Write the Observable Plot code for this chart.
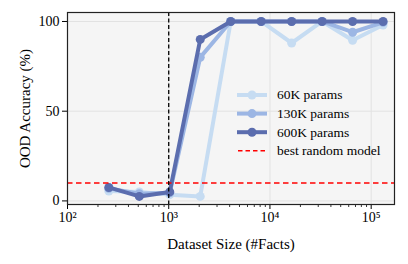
<!DOCTYPE html>
<html><head><meta charset="utf-8">
<script src="https://cdn.jsdelivr.net/npm/d3@7"></script>
<script src="https://cdn.jsdelivr.net/npm/@observablehq/plot@0.6"></script>
<style>
body{margin:0;background:#fff}
#chart{position:relative;width:408px;height:264px}
#chart svg, #chart svg text{font-family:"Liberation Serif","Times New Roman","DejaVu Serif",serif !important}
#chart [aria-label="x-axis label"], #chart [aria-label="y-axis label"]{font-size:15px}
</style>
</head><body><div id="chart"></div>
<script>
const sizes = [256, 512, 1024, 2048, 4096, 8192, 16384, 32768, 65536, 131072];
const acc60K = [5.5, 5, 3.5, 2.5, 100, 100, 88, 100, 89.5, 98];
const acc130K = [7, 4, 4.5, 80, 100, 100, 100, 100, 94, 99.5];
const acc600K = [7.5, 2.5, 5, 90, 100, 100, 100, 100, 100, 100];
const seriesNames = ["60K params", "130K params", "600K params"];
const seriesColors = ["#c6dcf2", "#9cb6e4", "#5b6dae"];
const randomLabel = "best random model";
const randomBaseline = 10;
const threshold = 1000;
const xMajorTicks = [1e2, 1e3, 1e4, 1e5];
const xTickLabels = ["10²", "10³", "10⁴", "10⁵"];
const yTicks = [0, 50, 100];
const xLabel = "Dataset Size (#Facts)";
const yLabel = "OOD Accuracy (%)";

const seriesValues = [acc60K, acc130K, acc600K];
const rows = [];
seriesNames.forEach((name, s) => sizes.forEach((x, i) => rows.push({series: name, x, y: seriesValues[s][i]})));

const xDomain = [100, 170000];
const minorTicks = [];
for (let k = 2; k <= 5; k++) for (let d = 2; d <= 9; d++) {
  const v = d * 10 ** k;
  if (v <= xDomain[1]) minorTicks.push(v);
}

const seriesMarks = seriesNames.flatMap((name, s) => {
  const data = rows.filter(r => r.series === name);
  return [
    Plot.line(data, {x: "x", y: "y", stroke: seriesColors[s], strokeWidth: 4}),
    Plot.dot(data, {x: "x", y: "y", fill: seriesColors[s], r: 4.5, stroke: "none"})
  ];
});

const chart = Plot.plot({
  width: 408, height: 264,
  marginLeft: 67, marginRight: 14, marginTop: 12, marginBottom: 60,
  style: {background: "transparent", color: "black"},
  x: {type: "log", domain: xDomain},
  y: {domain: [-2, 105]},
  marks: [
    Plot.frame({fill: "#f5f5f5"}),
    Plot.ruleX(xMajorTicks.filter(v => v > xDomain[0]), {stroke: "#e2e2e2", strokeWidth: 1}),
    Plot.ruleY(yTicks, {stroke: "#e2e2e2", strokeWidth: 1}),
    ...seriesMarks,
    Plot.ruleY([randomBaseline], {stroke: "#ff0000", strokeWidth: 1.5, strokeDasharray: "5.5,3.5"}),
    Plot.ruleX([threshold], {stroke: "black", strokeWidth: 1.3, strokeDasharray: "4,2.5"}),
    Plot.axisX(minorTicks, {tickSize: 3, tickFormat: null, label: null, strokeWidth: 0.8}),
    Plot.axisX({ticks: xMajorTicks, tickFormat: (d) => xTickLabels[xMajorTicks.indexOf(d)], tickSize: 5, tickPadding: 3, fontSize: 14, label: xLabel, labelAnchor: "center", labelOffset: 44, labelArrow: "none"}),
    Plot.axisY({ticks: yTicks, tickSize: 5, tickPadding: 3, fontSize: 14, label: yLabel, labelAnchor: "center", labelOffset: 48, labelArrow: "none"}),
    Plot.frame({stroke: "#222", strokeWidth: 1.2})
  ]
});
document.getElementById("chart").appendChild(chart);

// in-plot legend
const svg = d3.select(chart);
const leg = svg.append("g").attr("font-size", 13.5).attr("text-anchor", "start");
const legendItems = seriesNames.map((n, i) => ({label: n, color: seriesColors[i], dash: null}))
  .concat([{label: randomLabel, color: "#ff0000", dash: "4.5,3"}]);
legendItems.forEach((it, i) => {
  const y = 95 + i * 18.6;
  if (it.dash) {
    leg.append("line").attr("x1", 238).attr("x2", 266).attr("y1", y).attr("y2", y)
      .attr("stroke", it.color).attr("stroke-width", 1.5).attr("stroke-dasharray", it.dash);
  } else {
    leg.append("line").attr("x1", 237).attr("x2", 267).attr("y1", y).attr("y2", y)
      .attr("stroke", it.color).attr("stroke-width", 4);
    leg.append("circle").attr("cx", 252).attr("cy", y).attr("r", 4.5).attr("fill", it.color);
  }
  leg.append("text").attr("x", 277).attr("y", y).attr("dy", "0.32em").attr("fill", "black").text(it.label);
});
</script>
</body></html>
